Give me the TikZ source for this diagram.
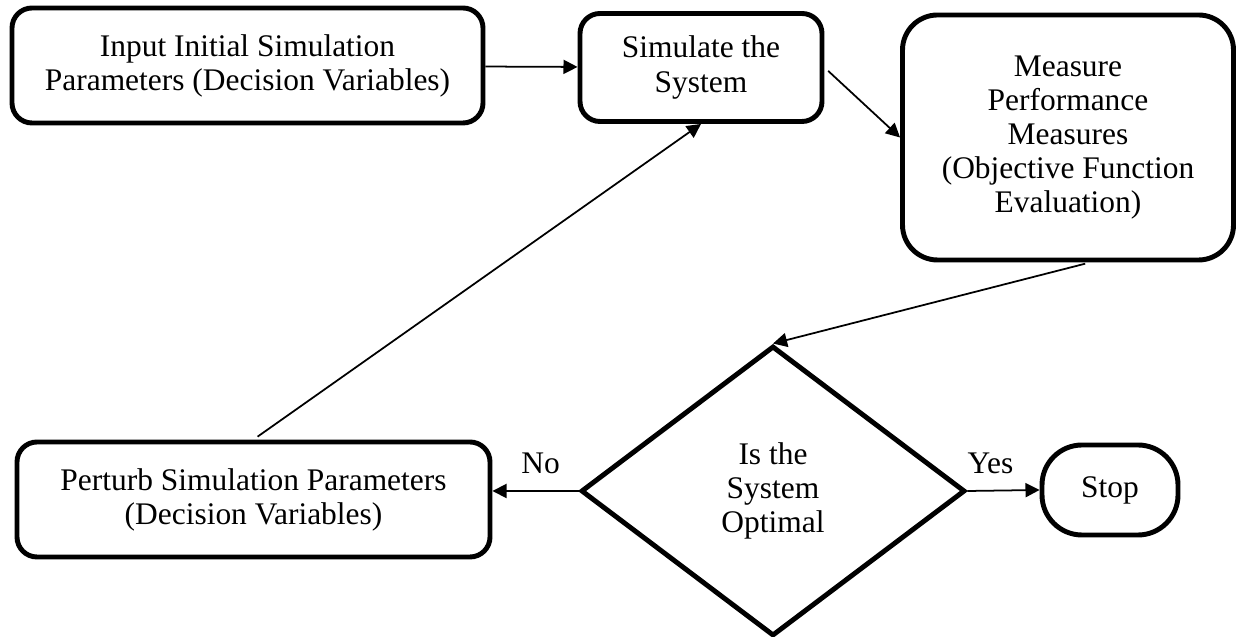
\documentclass[tikz,border=0pt]{standalone}
\usepackage{fontspec}
\setmainfont{Liberation Serif}
\usetikzlibrary{arrows.meta}
\usetikzlibrary{shapes.geometric}

\begin{document}
\begin{tikzpicture}
    \tikzstyle{block}=[draw, line width=2.8pt, rounded corners=0.4cm, align=center]
    \tikzstyle{decision}=[draw, diamond, line width=2.8pt, align=center, inner sep=0pt]
    \tikzstyle{flow}=[line width=1pt, -{Triangle[length=8pt, width=8pt]}]
    \tikzset{every node/.append style={font=\fontsize{17.9}{19.4}\selectfont}}

    \useasboundingbox (0, 0) rectangle (24.74, 12.74);

    % Top row
    \node[block, minimum width=9.42cm, minimum height=2.3cm] (input) at (4.95, 11.43)
      {Input Initial Simulation\\Parameters (Decision Variables)};
    \node[block, minimum width=4.84cm, minimum height=2.16cm] (simulate) at (14.02, 11.39)
      {Simulate the\\System};
    \node[block, rounded corners=0.7cm, minimum width=6.62cm, minimum height=4.9cm] (measure) at (21.36, 9.99)
      {Measure\\Performance\\Measures\\(Objective Function\\Evaluation)};

    % Bottom row
    \node[block, minimum width=9.46cm, minimum height=2.3cm] (perturb) at (5.07, 2.75)
      {Perturb Simulation Parameters\\(Decision Variables)};
    \node[decision, minimum width=7.68cm, minimum height=5.8cm] (optimal) at (15.46, 2.92)
      {Is the\\System\\Optimal};
    \node[block, rounded corners=0.8cm, minimum width=2.72cm, minimum height=1.8cm] (stop) at (22.2, 2.94)
      {Stop};

    % Connectors
    \draw[flow] (input) -- (simulate);
    \draw[flow, shorten <=0.1cm] (simulate.east) -- (measure.west);
    \draw[flow, shorten <=0.1cm] (measure.-80) -- (optimal.north);
    \draw[flow, shorten <=0.1cm] (perturb.north) -- (simulate.south);
    \draw[flow] (optimal.west) -- node[pos=0.44, above=0.2cm] {No} (perturb.east |- optimal.west);
    \draw[flow] (optimal.east) -- node[pos=0.32, above=0.2cm] {Yes} (stop.west);
  \end{tikzpicture}
\end{document}
